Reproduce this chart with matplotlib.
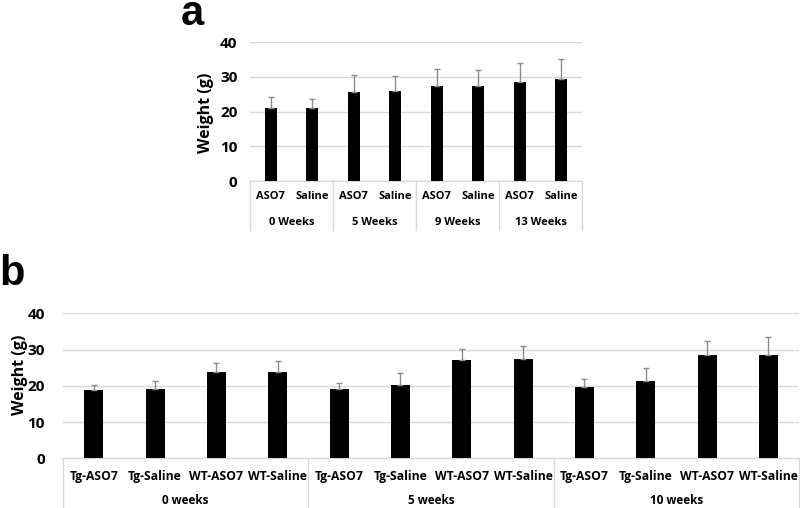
import numpy as np
import matplotlib
matplotlib.use("Agg")
import matplotlib.pyplot as plt
import matplotlib.transforms as mtransforms

# panel a
a_groups = ["0 Weeks", "5 Weeks", "9 Weeks", "13 Weeks"]
a_treat = ["ASO7", "Saline"]
a_mean = [21.0, 21.0, 25.7, 26.0, 27.2, 27.2, 28.4, 29.4]
a_err = [3.2, 2.6, 4.9, 4.1, 5.0, 4.7, 5.5, 5.7]

# panel b
b_groups = ["0 weeks", "5 weeks", "10 weeks"]
b_treat = ["Tg-ASO7", "Tg-Saline", "WT-ASO7", "WT-Saline"]
b_mean = [18.9, 19.1, 23.8, 23.8, 19.1, 20.3, 27.0, 27.4, 19.7, 21.4, 28.6, 28.6]
b_err = [1.2, 2.1, 2.4, 3.1, 1.6, 3.3, 3.2, 3.6, 2.2, 3.4, 3.7, 4.8]

FONT = "Open Sans"
GRID = "#d9d9d9"


def draw_panel(ax, groups, treat, mean, err, width, inner_y, group_y,
               tick_pad, sep_len, inner_size, group_size):
    n_t = len(treat)
    n = len(mean)
    x = np.arange(n)
    ax.bar(x, mean, width=width, color="black", zorder=3)
    ax.errorbar(x, mean, yerr=[np.zeros(n), err], fmt="none", ecolor="#8c8c8c",
                elinewidth=1.0, capsize=2.5, capthick=1.0, zorder=4)
    ax.set_xlim(-0.5, n - 0.5)
    ax.set_ylim(0, 40)
    ax.set_yticks([0, 10, 20, 30, 40])
    ax.set_yticklabels(["0", "10", "20", "30", "40"], fontfamily=FONT,
                       fontweight="bold", fontsize=11)
    ax.tick_params(axis="y", length=0, pad=tick_pad)
    ax.set_xticks([])
    for s in ["top", "right", "left"]:
        ax.spines[s].set_visible(False)
    ax.spines["bottom"].set_color(GRID)
    ax.spines["bottom"].set_linewidth(1.0)
    ax.yaxis.grid(True, color=GRID, linewidth=1.0, zorder=0)
    ax.set_axisbelow(True)

    # multi-level category box under the axis
    trans = mtransforms.blended_transform_factory(ax.transData, ax.transAxes)
    for k in range(len(groups) + 1):
        xs = k * n_t - 0.5
        ax.plot([xs, xs], [0, -sep_len], color=GRID, linewidth=1.0,
                transform=trans, clip_on=False)
    for i in range(n):
        ax.text(x[i], inner_y, treat[i % n_t], transform=trans, ha="center",
                va="center", fontfamily=FONT, fontweight="bold", fontsize=inner_size)
    for g, name in enumerate(groups):
        ax.text(g * n_t + (n_t - 1) / 2, group_y, name, transform=trans,
                ha="center", va="center", fontfamily=FONT, fontweight="bold",
                fontsize=group_size)


fig = plt.figure(figsize=(8, 5.08), dpi=100)
fig.patch.set_facecolor("white")

ax_a = fig.add_axes([0.3125, 0.6437, 0.415, 0.2736])
draw_panel(ax_a, a_groups, a_treat, a_mean, a_err, 0.28, -0.115, -0.296, 9, 0.355, 8, 8)

ax_b = fig.add_axes([0.0788, 0.0978, 0.92, 0.2854])
draw_panel(ax_b, b_groups, b_treat, b_mean, b_err, 0.31, -0.124, -0.29, 13, 0.36, 8.7, 8.5)

fig.text(206 / 800, 1 - 113 / 508, "Weight (g)", rotation=90, ha="center",
         va="center", fontfamily=FONT, fontweight="bold", fontsize=11.5)
fig.text(20 / 800, 1 - 375 / 508, "Weight (g)", rotation=90, ha="center",
         va="center", fontfamily=FONT, fontweight="bold", fontsize=11.5)

fig.text(181 / 800, 1 - 25 / 508, "a", ha="left", va="baseline",
         fontfamily="Liberation Sans", fontweight="bold", fontsize=30)
fig.text(-1 / 800, 1 - 285 / 508, "b", ha="left", va="baseline",
         fontfamily="Liberation Sans", fontweight="bold", fontsize=30)

fig.savefig("out.png", dpi=100)
